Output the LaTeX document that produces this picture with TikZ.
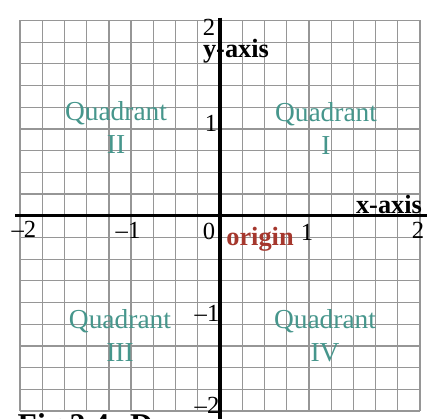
\documentclass[tikz,border=0pt]{standalone}
\usepackage{fontspec}
\setmainfont{Liberation Serif}
\definecolor{quadteal}{RGB}{70,150,140}
\definecolor{originred}{RGB}{165,55,45}
\definecolor{gridgray}{RGB}{150,150,150}
\tikzset{
  gridline/.style={gridgray,line width=0.35pt},
  axisline/.style={black,line width=0.9pt},
  ticklabel/.style={font=\fontsize{7}{8}\selectfont,inner sep=0pt},
  axisname/.style={font=\fontsize{7.5}{8}\selectfont\bfseries,inner sep=0pt},
  quadlabel/.style={quadteal,align=center,
                    font=\fontsize{7.8}{9.5}\selectfont,inner sep=0pt},
}

\begin{document}
\begin{tikzpicture}[x=1cm,y=0.93cm]

    \useasboundingbox (-2.20,-2.18) rectangle (2.11,2.32);
    \clip (-2.20,-2.18) rectangle (2.11,2.32);
    \fill[white] (-2.20,-2.18) rectangle (2.11,2.32);

    % Grid
    \foreach \i in {-9,...,9} {
      \draw[gridline] ({\i*2/9},-2.1) -- ({\i*2/9},2.1);
      \draw[gridline] (-2,{\i*2.1/9}) -- (2,{\i*2.1/9});
    }

    % Axes
    \coordinate (xleft) at (-2.05,0);
    \coordinate (xright) at (2.07,0);
    \coordinate (ytop) at (0,2.13);
    \coordinate (ybottom) at (0,-2.30);
    \draw[axisline] (xleft) -- (xright);
    \draw[axisline] (ytop) -- (ybottom);

    % Axis names
    \node[axisname] (xname) at (1.69,0.12) {x-axis};
    \node[axisname] (yname) at (0.16,1.77) {y-axis};
    \node[axisname,originred] (origin) at (0.40,-0.25) {origin};

    % Ticks on x
    \node[ticklabel] (xm2) at (-1.96,-0.15) {--2};
    \node[ticklabel] (xm1) at (-0.92,-0.16) {--1};
    \node[ticklabel] (xzero) at (-0.11,-0.17) {0};
    \node[ticklabel] (xp1) at (0.87,-0.18) {1};
    \node[ticklabel] (xp2) at (1.98,-0.16) {2};

    % Ticks on y
    \node[ticklabel] (yp2) at (-0.11,2.03) {2};
    \node[ticklabel] (yp1) at (-0.09,0.99) {1};
    \node[ticklabel] (ym1) at (-0.13,-1.05) {--1};
    \node[ticklabel] (ym2) at (-0.13,-2.04) {--2};

    % Quadrants
    \node[quadlabel] (quadI) at (1.06,0.94) {Quadrant\\I};
    \node[quadlabel] (quadII) at (-1.04,0.95) {Quadrant\\II};
    \node[quadlabel] (quadIII) at (-1.00,-1.29) {Quadrant\\III};
    \node[quadlabel] (quadIV) at (1.05,-1.29) {Quadrant\\IV};

    % Caption (cut off)
    \node[anchor=base west,inner sep=0pt,font=\fontsize{9}{10}\selectfont\bfseries]
        (caption) at (-2.03,-2.36) {Fig 2.4: D};

  \end{tikzpicture}
\end{document}
